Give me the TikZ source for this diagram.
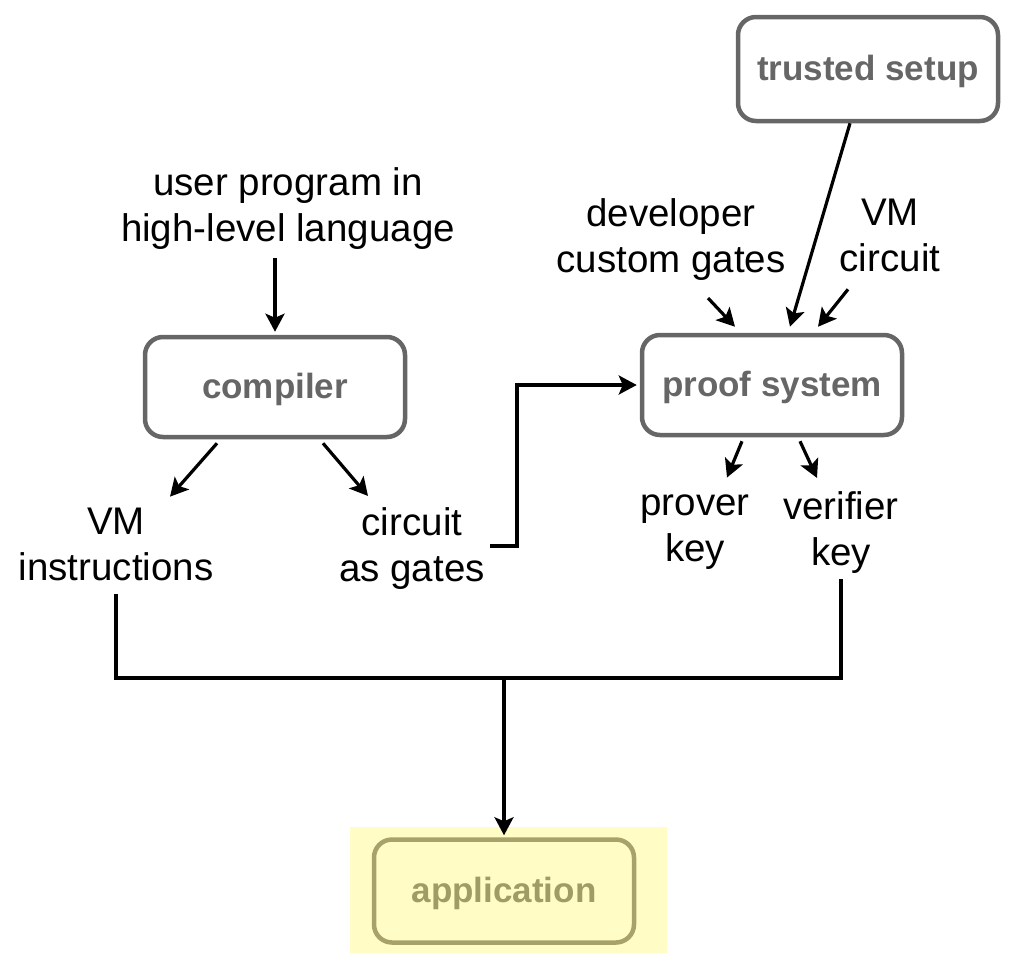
\documentclass[tikz,border=0pt]{standalone}
\usepackage{fontspec}
\setmainfont{Liberation Sans}
\usetikzlibrary{arrows.meta}

\definecolor{boxgray}{HTML}{666666}
\definecolor{appfill}{HTML}{FFFCC6}
\definecolor{appline}{HTML}{A6A26A}
\definecolor{apptext}{HTML}{A09C66}

\tikzset{
  stage/.style={draw=boxgray, line width=4.5pt, rounded corners=18pt,
    minimum width=260pt, minimum height=100pt, text=boxgray,
    text height=30pt, text depth=7pt,
    font=\fontsize{35}{40}\selectfont\bfseries},
  note/.style={align=center, inner sep=0pt,
    font=\fontsize{38.5}{46}\selectfont,
    execute at begin node=\strut, execute at end node=\strut},
  wire/.style={line width=3.2pt},
  flow/.style={wire, -{Stealth[length=18pt,width=19pt,inset=4pt]}},
}

\begin{document}
\begin{tikzpicture}[x=1pt, y=-1pt]
  \useasboundingbox (0,0) rectangle (1012,962);

  % Boxes
  \node[stage, minimum height=104pt] (setup) at (868,69) {trusted setup};
  \node[stage] (compiler) at (275,387) {compiler};
  \node[stage] (proof) at (772,385) {proof system};

  % Application on its yellow patch
  \fill[appfill] (350,827) rectangle (667,953);
  \node[stage, draw=appline, text=apptext, minimum height=103pt] (app) at (504,891) {application};

  % Texts
  \node[note] (userprog) at (288,211) {user program in\\high-level language};
  \node[note] (vminstr) at (116,551) {VM\\instructions};
  \node[note] (gates) at (412,551) {circuit\\as gates};
  \node[note] (devgates) at (671,242) {developer\\custom gates};
  \node[note] (vmcircuit) at (890,242) {VM\\circuit};
  \node[note] (prover) at (695,535) {prover\\key};
  \node[note] (verifier) at (841,535) {verifier\\key};

  % Compiler in and out
  \draw[flow] ([shift={(-13,3)}]userprog.south) -- ([shift={(0,-3)}]compiler.north);
  \draw[flow] ([shift={(-58,4)}]compiler.south) -- ([shift={(54,-11)}]vminstr.north);
  \draw[flow] ([shift={(48,4)}]compiler.south) -- ([shift={(-44,-11)}]gates.north);

  % Gates into the proof system
  \draw[flow, shorten >=3pt] ([shift={(5,-5)}]gates.east) -- ++(27,0) |- (proof.west);

  % Proof system in and out
  \draw[flow] ([shift={(-18,0)}]setup.south) -- ([shift={(18,-6)}]proof.north);
  \draw[flow] ([shift={(37,12)}]devgates.south) -- ([shift={(-37,-6)}]proof.north);
  \draw[flow] ([shift={(-42,4)}]vmcircuit.south) -- ([shift={(46,-6)}]proof.north);
  \draw[flow] ([shift={(-30,4)}]proof.south) -- ([shift={(32,-17)}]prover.north);
  \draw[flow] ([shift={(28,4)}]proof.south) -- ([shift={(-24,-13)}]verifier.north);

  % Everything meets in the application
  \coordinate (merge) at (504,678);
  \draw[wire] (vminstr.south) |- (merge) -| (verifier.south);
  \draw[flow, shorten >=2pt] (merge) -- (app.north);

\end{tikzpicture}
\end{document}
